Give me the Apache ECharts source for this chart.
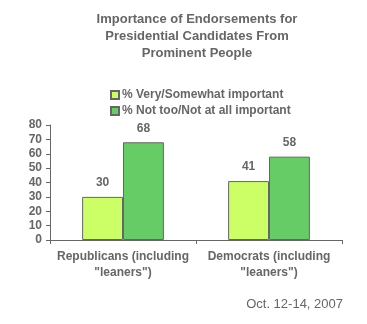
<!DOCTYPE html>
<html><head><meta charset="utf-8">
<script src="https://cdn.jsdelivr.net/npm/echarts@6/dist/echarts.min.js"></script>
<style>html,body{margin:0;padding:0;background:#fff}#c{width:367px;height:324px}</style>
</head><body><div id="c"></div>
<script>
const categories = ['Republicans (including\n"leaners")', 'Democrats (including\n"leaners")'];
const seriesNames = ['% Very/Somewhat important', '% Not too/Not at all important'];
const veryImportant = [30, 41];
const notImportant = [68, 58];
const yTicks = [0, 10, 20, 30, 40, 50, 60, 70, 80];

const font = 'Arial, "Liberation Sans", sans-serif';
const chart = echarts.init(document.getElementById('c'), null, {renderer: 'canvas'});
chart.setOption({
  animation: false,
  backgroundColor: '#fff',
  title: {
    text: 'Importance of Endorsements for\nPresidential Candidates From\nProminent People',
    left: 192, top: 6, textAlign: 'center',
    textStyle: {fontFamily: font, fontSize: 13, fontWeight: 'bold', color: '#666', lineHeight: 17}
  },
  legend: {
    orient: 'vertical', left: 105, top: 84, itemWidth: 8, itemHeight: 8, itemGap: 4,
    icon: 'rect',
    textStyle: {fontFamily: font, fontSize: 12, fontWeight: 'bold', color: '#666', padding: [0,0,0,-2]},
    data: seriesNames
  },
  grid: {left: 50, right: 25, top: 125, bottom: 84},
  xAxis: {
    type: 'category', data: categories,
    axisLine: {lineStyle: {color: '#666'}},
    axisTick: {show: true, length: 4, lineStyle: {color: '#666'}},
    axisLabel: {interval: 0, hideOverlap: false, fontFamily: font, fontSize: 12, fontWeight: 'bold', color: '#666', lineHeight: 16, margin: 9}
  },
  yAxis: {
    type: 'value', min: yTicks[0], max: yTicks[yTicks.length-1], interval: 10,
    splitLine: {show: false},
    axisLine: {show: true, lineStyle: {color: '#666'}},
    axisTick: {show: true, length: 4, lineStyle: {color: '#666'}},
    axisLabel: {fontFamily: font, fontSize: 12, fontWeight: 'bold', color: '#666', margin: 8}
  },
  series: [
    {name: seriesNames[0], type: 'bar', data: veryImportant, barGap: '0%', barCategoryGap: '44%',
     itemStyle: {color: '#CCFF66', borderColor: '#666', borderWidth: 1},
     label: {show: true, position: 'top', distance: 8, fontFamily: font, fontSize: 12, fontWeight: 'bold', color: '#666'}},
    {name: seriesNames[1], type: 'bar', data: notImportant,
     itemStyle: {color: '#66CC66', borderColor: '#666', borderWidth: 1},
     label: {show: true, position: 'top', distance: 8, fontFamily: font, fontSize: 12, fontWeight: 'bold', color: '#666'}}
  ],
  graphic: [{
    type: 'text', right: 24, top: 298,
    style: {text: 'Oct. 12-14, 2007', font: '13px ' + font, fill: '#666'}
  }]
});
</script></body></html>
